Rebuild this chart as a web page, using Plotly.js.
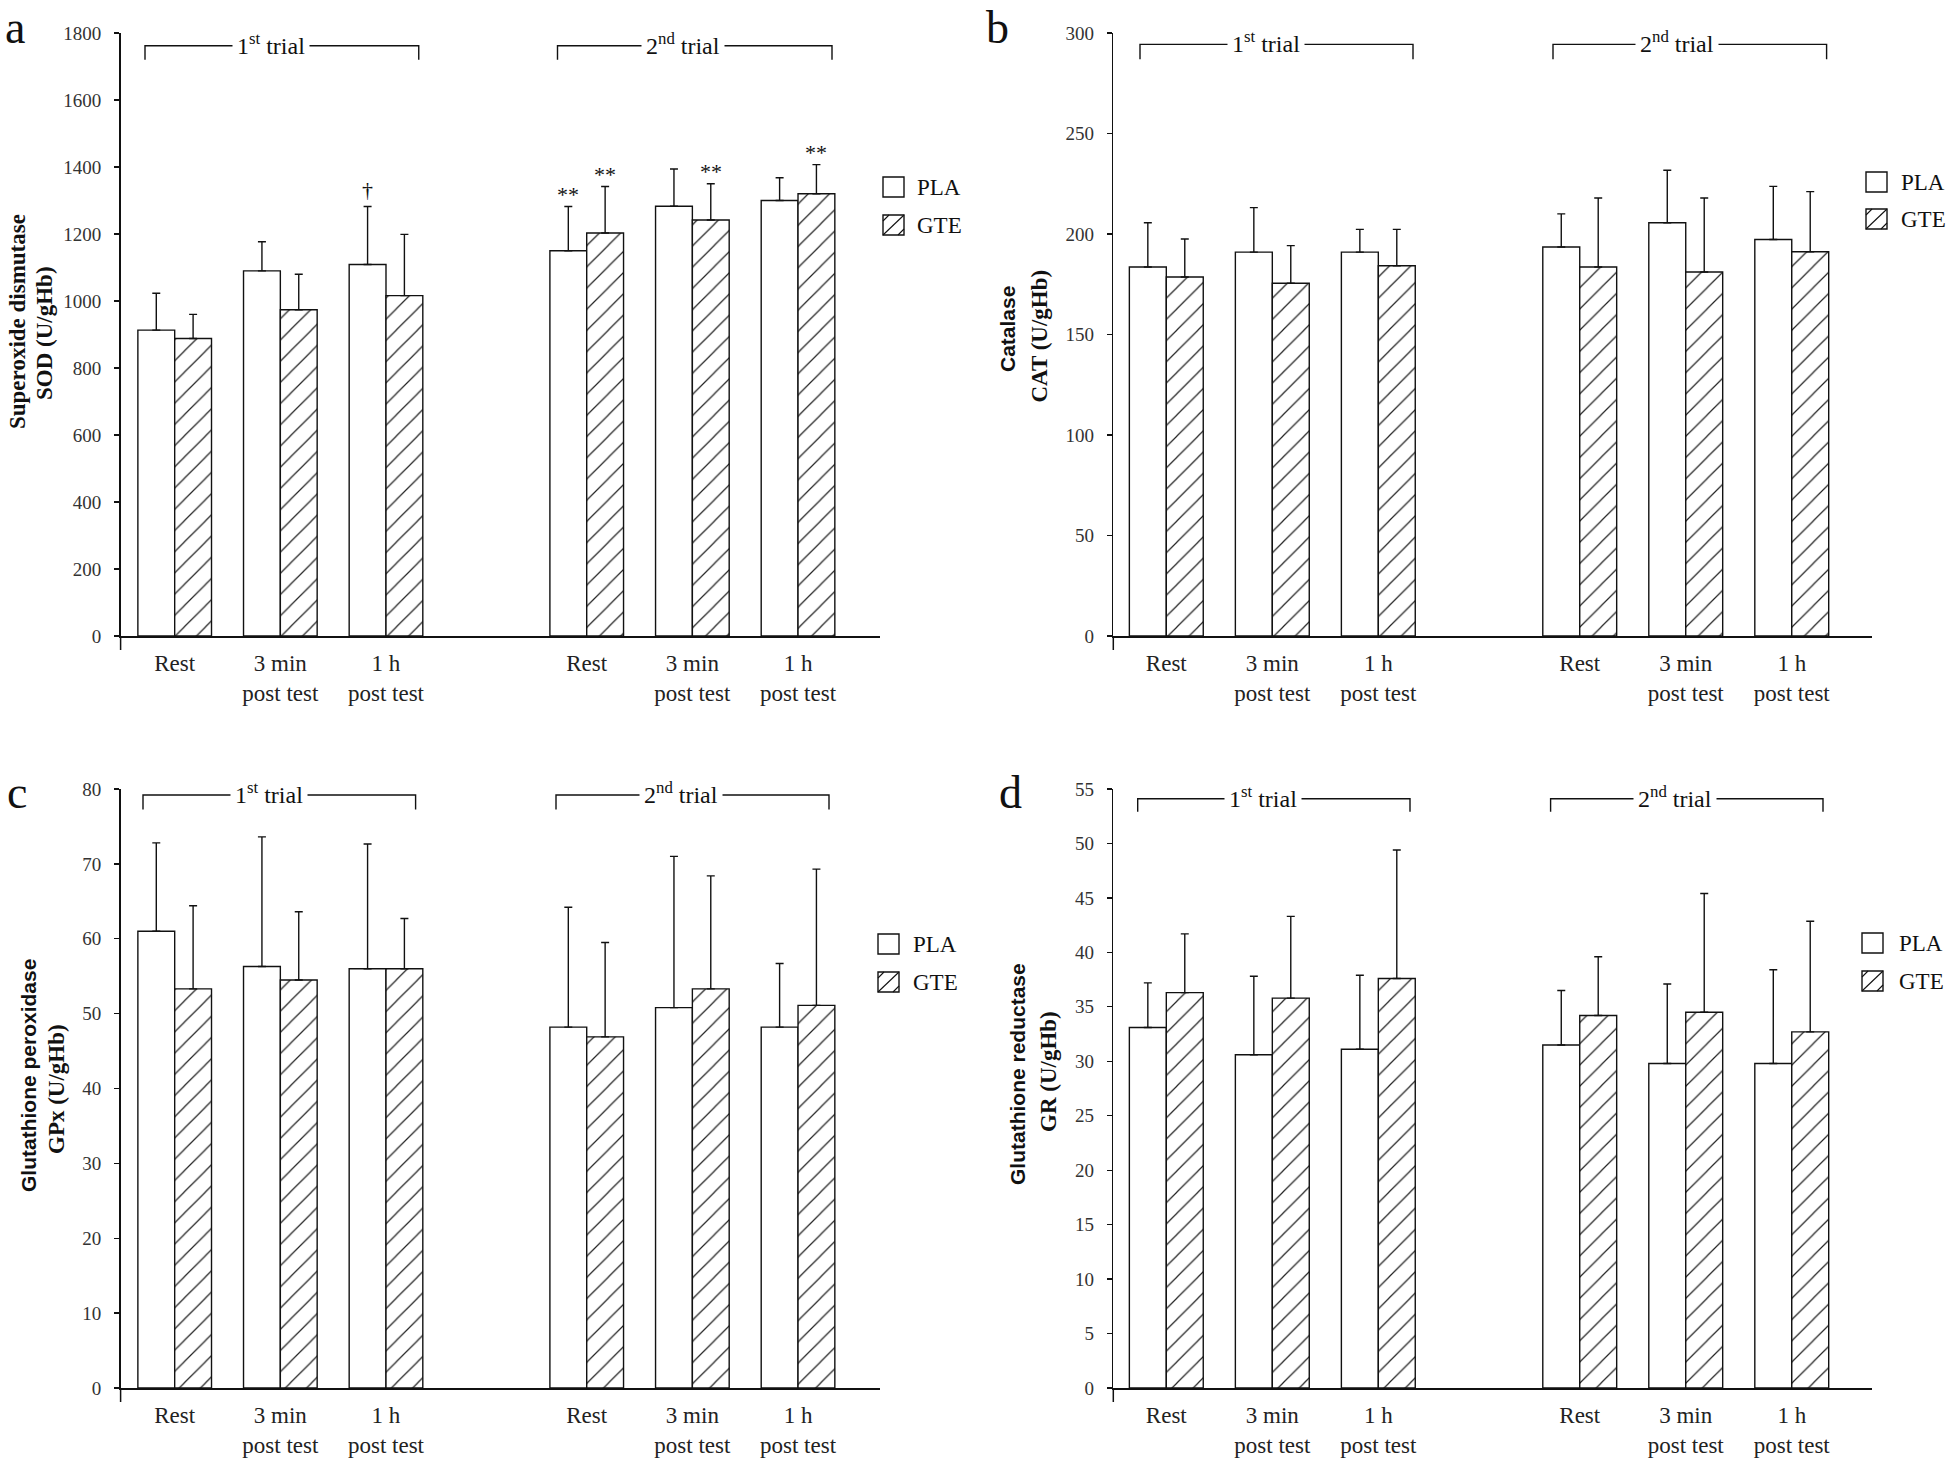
<!DOCTYPE html>
<html><head><meta charset="utf-8">
<script src="https://cdn.plot.ly/plotly-3.0.1.min.js"></script>
<style>html,body{margin:0;padding:0;background:#fff}#chart{width:1946px;height:1462px}</style>
</head><body><div id="chart"></div>
<script>
// ---------------- data ----------------
const categories = ['Rest', '3 min<br>post test', '1 h<br>post test', 'Rest', '3 min<br>post test', '1 h<br>post test'];
const trialLabels = ['1<sup>st</sup> trial', '2<sup>nd</sup> trial'];
const seriesNames = ['PLA', 'GTE'];

const sodPLA   = [913, 1090, 1109, 1150, 1283, 1300];
const sodPLAsd = [110, 87, 173, 132, 111, 68];
const sodGTE   = [888, 974, 1016, 1203, 1242, 1320];
const sodGTEsd = [72, 106, 183, 139, 108, 87];

const catPLA   = [183.6, 191.0, 191.0, 193.5, 205.6, 197.3];
const catPLAsd = [22.0, 22.1, 11.3, 16.5, 26.1, 26.4];
const catGTE   = [178.6, 175.5, 184.2, 183.6, 181.1, 191.2];
const catGTEsd = [18.9, 18.7, 18.1, 34.3, 36.8, 29.9];

const gpxPLA   = [61.0, 56.3, 56.0, 48.2, 50.8, 48.2];
const gpxPLAsd = [11.8, 17.3, 16.65, 16.0, 20.2, 8.5];
const gpxGTE   = [53.3, 54.5, 56.0, 46.9, 53.3, 51.1];
const gpxGTEsd = [11.1, 9.1, 6.7, 12.6, 15.1, 18.2];

const grPLA    = [33.1, 30.6, 31.1, 31.5, 29.8, 29.8];
const grPLAsd  = [4.1, 7.2, 6.8, 5.0, 7.3, 8.6];
const grGTE    = [36.3, 35.8, 37.6, 34.2, 34.5, 32.7];
const grGTEsd  = [5.4, 7.5, 11.8, 5.4, 10.9, 10.15];

// significance marks for SOD: [series index, category index, symbol]
const sodMarks = [[0, 2, '†'], [0, 3, '**'], [1, 3, '**'], [1, 4, '**'], [1, 5, '**']];

// ---------------- layout helpers ----------------
const W = 1946, H = 1462;
const px = v => v / W, py = v => 1 - v / H;
const slotX = [0, 1, 2, 3.9, 4.9, 5.9];
const SERIF = 'Liberation Serif, Times New Roman, serif';
const SANS = 'Liberation Sans, Arial, sans-serif';
const INK = '#111';

const panels = [
  {letter: 'a', lx: 3, ly: 27, x0: 120.6, x1: 880, xr: [-0.512, 6.676], yTop: 33, yBot: 636, ymax: 1800, dtick: 200,
   pla: sodPLA, plaSd: sodPLAsd, gte: sodGTE, gteSd: sodGTEsd, marks: sodMarks,
   t1: {text: 'Superoxide dismutase', font: SERIF, size: 23, x: 17, y: 322},
   t2: {text: 'SOD (U/gHb)', x: 45, y: 333},
   br: [[145, 418.75], [557.5, 832]], brY: 45.7, brE: 59.8, brT: [271, 683],
   leg: {bx: 883, tx: 915, y: [187, 225]}},
  {letter: 'b', lx: 984, ly: 27, x0: 1113.3, x1: 1872, xr: [-0.5, 6.657], yTop: 33, yBot: 636, ymax: 300, dtick: 50,
   pla: catPLA, plaSd: catPLAsd, gte: catGTE, gteSd: catGTEsd, marks: [],
   t1: {text: 'Catalase', font: SANS, size: 21, x: 1008, y: 329},
   t2: {text: 'CAT (U/gHb)', x: 1038.5, y: 336},
   br: [[1140, 1413], [1553, 1826.6]], brY: 44.4, brE: 59.3, brT: [1265.6, 1677],
   leg: {bx: 1866, tx: 1899, y: [182, 219]}},
  {letter: 'c', lx: 5, ly: 793, x0: 120.6, x1: 880, xr: [-0.512, 6.676], yTop: 789, yBot: 1388, ymax: 80, dtick: 10,
   pla: gpxPLA, plaSd: gpxPLAsd, gte: gpxGTE, gteSd: gpxGTEsd, marks: [],
   t1: {text: 'Glutathione peroxidase', font: SANS, size: 21, x: 28, y: 1076},
   t2: {text: 'GPx (U/gHb)', x: 56, y: 1089},
   br: [[143, 415.6], [556, 829]], brY: 795, brE: 809.4, brT: [268.7, 680.6],
   leg: {bx: 878, tx: 911, y: [944, 982]}},
  {letter: 'd', lx: 997, ly: 793, x0: 1113.3, x1: 1872, xr: [-0.5, 6.657], yTop: 789, yBot: 1388, ymax: 55, dtick: 5,
   pla: grPLA, plaSd: grPLAsd, gte: grGTE, gteSd: grGTEsd, marks: [],
   t1: {text: 'Glutathione reductase', font: SANS, size: 21, x: 1017, y: 1074},
   t2: {text: 'GR (U/gHb)', x: 1048, y: 1072},
   br: [[1137.7, 1410], [1550.6, 1823]], brY: 798.7, brE: 811.8, brT: [1262.8, 1675],
   leg: {bx: 1862, tx: 1897, y: [943, 981]}}
];

const traces = [];
const layout = {
  width: W, height: H, margin: {l: 0, r: 0, t: 0, b: 0},
  paper_bgcolor: '#fff', plot_bgcolor: 'rgba(0,0,0,0)',
  barmode: 'group', bargap: 0.303, bargroupgap: 0, showlegend: false,
  font: {family: SERIF, color: INK},
  shapes: [], annotations: []
};

panels.forEach((p, i) => {
  const n = i === 0 ? '' : String(i + 1);
  const xa = 'x' + n, ya = 'y' + n;
  const zeros = p.pla.map(() => 0);
  const errStyle = {type: 'data', symmetric: false, color: INK, thickness: 1.4, width: 4};
  traces.push({
    type: 'bar', name: seriesNames[0], x: slotX, y: p.pla, xaxis: xa, yaxis: ya,
    marker: {color: '#fff', line: {color: INK, width: 1.4}},
    error_y: Object.assign({array: p.plaSd, arrayminus: zeros}, errStyle),
    hoverinfo: 'skip'
  });
  traces.push({
    type: 'bar', name: seriesNames[1], x: slotX, y: p.gte, xaxis: xa, yaxis: ya,
    marker: {color: '#fff', line: {color: INK, width: 1.4},
             pattern: {shape: '/', fgcolor: '#222', bgcolor: '#fff', size: 15, solidity: 0.08, fillmode: 'replace'}},
    error_y: Object.assign({array: p.gteSd, arrayminus: zeros}, errStyle),
    hoverinfo: 'skip'
  });

  layout['xaxis' + n] = {
    domain: [px(p.x0), px(p.x1)], range: p.xr, anchor: ya,
    tickmode: 'array', tickvals: slotX, ticktext: categories, ticks: '',
    showline: true, linecolor: INK, linewidth: 1.5, showgrid: false, zeroline: false,
    tickfont: {family: SERIF, size: 23, color: '#222'}, ticklabelstandoff: 6, fixedrange: true
  };
  layout['yaxis' + n] = {
    domain: [py(p.yBot), py(p.yTop)], range: [0, p.ymax], anchor: xa,
    dtick: p.dtick, tick0: 0, ticks: 'outside', ticklen: 5, tickwidth: 1.3, tickcolor: INK,
    showline: true, linecolor: INK, linewidth: 1.5, showgrid: false, zeroline: false,
    tickfont: {family: SERIF, size: 19, color: '#333'}, ticklabelstandoff: 9, fixedrange: true
  };

  // y axis stub below the category axis
  layout.shapes.push({type: 'line', xref: 'paper', yref: 'paper',
    x0: px(p.x0), x1: px(p.x0), y0: py(p.yBot), y1: py(p.yBot + 14), line: {color: INK, width: 1.5}});

  // trial brackets
  p.br.forEach((b, k) => {
    layout.shapes.push({type: 'path', xref: 'paper', yref: 'paper',
      path: `M${px(b[0])},${py(p.brE)} L${px(b[0])},${py(p.brY)} L${px(b[1])},${py(p.brY)} L${px(b[1])},${py(p.brE)}`,
      line: {color: INK, width: 1.4}});
    layout.annotations.push({xref: 'paper', yref: 'paper', x: px(p.brT[k]), y: py(p.brY),
      xanchor: 'center', yanchor: 'middle', yshift: 2, text: trialLabels[k], showarrow: false,
      bgcolor: '#fff', borderpad: 4, font: {family: SERIF, size: 24, color: INK}});
  });

  // legend (key boxes + labels)
  const bw = 21, bh = 20;
  p.leg.y.forEach((cy, k) => {
    const x0 = p.leg.bx, x1 = x0 + bw, y0 = cy - bh / 2, y1 = cy + bh / 2;
    layout.shapes.push({type: 'rect', xref: 'paper', yref: 'paper',
      x0: px(x0), x1: px(x1), y0: py(y0), y1: py(y1), fillcolor: '#fff', line: {color: INK, width: 1.4}});
    if (k === 1) {
      const segs = [[x0, y1, x1, y0], [x0, y0 + 6, x0 + 6, y0], [x1 - 6, y1, x1, y1 - 6]];
      segs.forEach(s => layout.shapes.push({type: 'line', xref: 'paper', yref: 'paper',
        x0: px(s[0]), y0: py(s[1]), x1: px(s[2]), y1: py(s[3]), line: {color: INK, width: 1.1}}));
    }
    layout.annotations.push({xref: 'paper', yref: 'paper', x: px(p.leg.tx), y: py(cy),
      xanchor: 'left', yanchor: 'middle', text: seriesNames[k], showarrow: false,
      font: {family: SERIF, size: 23, color: INK}});
  });

  // panel letter
  layout.annotations.push({xref: 'paper', yref: 'paper', x: px(p.lx), y: py(p.ly),
    xanchor: 'left', yanchor: 'middle', text: p.letter, showarrow: false,
    font: {family: SERIF, size: 46, color: INK}});

  // y titles (two lines, different faces)
  layout.annotations.push({xref: 'paper', yref: 'paper', x: px(p.t1.x), y: py(p.t1.y),
    xanchor: 'center', yanchor: 'middle', textangle: -90, text: '<b>' + p.t1.text + '</b>', showarrow: false,
    font: {family: p.t1.font, size: p.t1.size, color: INK}});
  layout.annotations.push({xref: 'paper', yref: 'paper', x: px(p.t2.x), y: py(p.t2.y),
    xanchor: 'center', yanchor: 'middle', textangle: -90, text: '<b>' + p.t2.text + '</b>', showarrow: false,
    font: {family: SERIF, size: 23, color: INK}});

  // significance marks
  p.marks.forEach(m => {
    const [s, c, sym] = m;
    const vals = s === 0 ? p.pla : p.gte, sds = s === 0 ? p.plaSd : p.gteSd;
    const off = (1 - layout.bargap) / 4 * (s === 0 ? -1 : 1);
    layout.annotations.push({xref: xa, yref: ya, x: slotX[c] + off, y: vals[c] + sds[c],
      xanchor: 'center', yanchor: 'middle', yshift: sym === '**' ? 12 : 17, text: sym, showarrow: false,
      font: {family: SERIF, size: 22, color: INK}});
  });
});

Plotly.newPlot('chart', traces, layout, {staticPlot: true, displayModeBar: false});
</script>
</body></html>
